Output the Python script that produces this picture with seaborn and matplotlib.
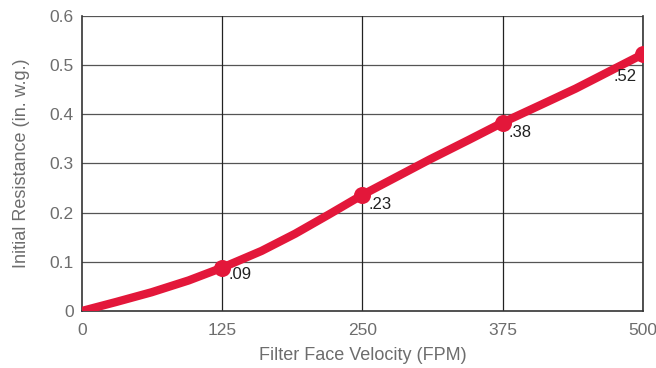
import numpy as np
import pandas as pd
import seaborn as sns
import matplotlib.pyplot as plt

# curve
velocity = [0, 30, 62, 95, 125, 160, 190, 220, 250, 280, 310, 345, 375, 410, 440, 470, 500]
resistance = [0, 0.018, 0.038, 0.062, 0.088, 0.122, 0.157, 0.196, 0.236, 0.272, 0.308, 0.348, 0.383, 0.42, 0.452, 0.487, 0.522]

point_velocity = [125, 250, 375, 500]
point_resistance = [0.088, 0.236, 0.383, 0.522]
point_labels = [".09", ".23", ".38", ".52"]

x_ticks = [0, 125, 250, 375, 500]
y_ticks = [0, 0.1, 0.2, 0.3, 0.4, 0.5, 0.6]
y_tick_labels = ["0", "0.1", "0.2", "0.3", "0.4", "0.5", "0.6"]

RED = "#E3173A"
TEXT = "#6d6d6d"

sns.set_style("white")
plt.rcParams["font.family"] = ["Liberation Sans", "DejaVu Sans"]

curve = pd.DataFrame({"velocity": velocity, "resistance": resistance})
points = pd.DataFrame({"velocity": point_velocity, "resistance": point_resistance})

fig, ax = plt.subplots(figsize=(6.56, 3.68), dpi=100)
fig.subplots_adjust(left=0.125, right=0.98, top=0.957, bottom=0.155)

for y in y_ticks[1:]:
    ax.axhline(y, color="#555555", lw=0.9, zorder=1)
for x in x_ticks[1:]:
    ax.axvline(x, color="#222222", lw=0.9, zorder=1)

sns.lineplot(data=curve, x="velocity", y="resistance", ax=ax, color=RED,
             lw=6, zorder=3, solid_capstyle="butt")
sns.scatterplot(data=points, x="velocity", y="resistance", ax=ax, color=RED,
                s=150, edgecolor=RED, linewidth=0, zorder=4)

# label offsets in pixels (text centre relative to the point)
label_dx = [6, 6, 6, -6]
label_dy = [-7, -10, -10, -22]
for vx, vy, lab, dx, dy in zip(point_velocity, point_resistance, point_labels, label_dx, label_dy):
    ax.annotate(lab, (vx, vy), xytext=(dx, dy), textcoords="offset pixels",
                ha="left" if dx > 0 else "right", va="center",
                fontsize=12, color="#222222", zorder=5)

ax.set_xlim(0, 500)
ax.set_ylim(0, 0.6)
ax.set_xticks(x_ticks)
ax.set_yticks(y_ticks)
ax.set_yticklabels(y_tick_labels)
ax.tick_params(axis="y", labelsize=12.5, colors=TEXT, length=0, pad=6)
ax.tick_params(axis="x", labelsize=12.5, colors=TEXT, length=0, pad=9)
ax.set_xlabel("Filter Face Velocity (FPM)", fontsize=13, color=TEXT, labelpad=6)
ax.set_ylabel("Initial Resistance (in. w.g.)", fontsize=13, color=TEXT, labelpad=14)

for side in ["left", "bottom", "right", "top"]:
    ax.spines[side].set_color("#333333")
    ax.spines[side].set_linewidth(1.2)
ax.spines["top"].set_visible(False)

plt.savefig("out.png", dpi=100)
